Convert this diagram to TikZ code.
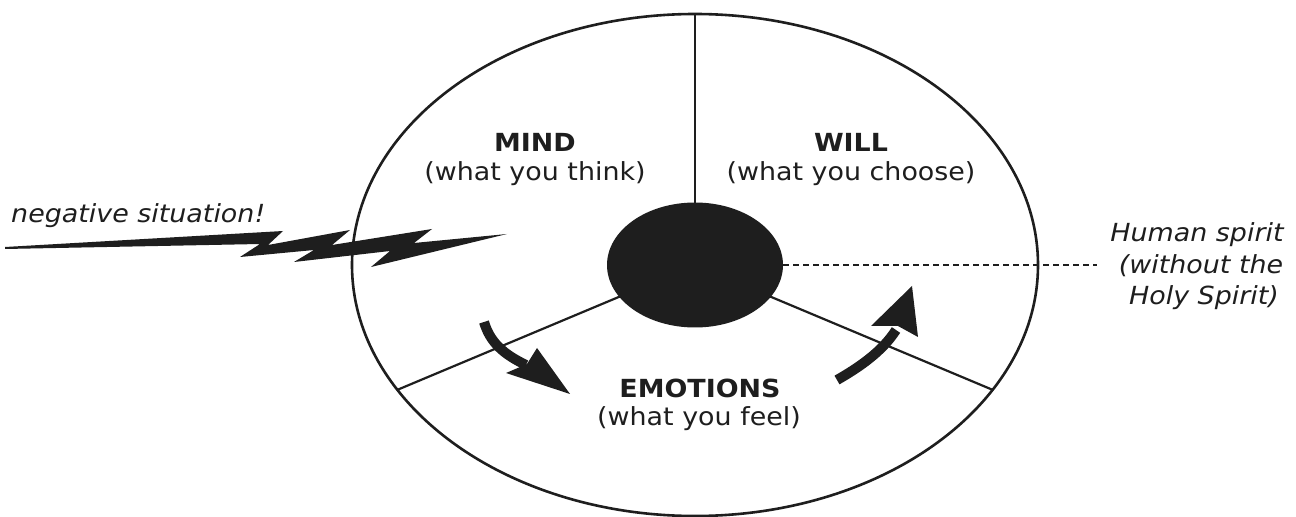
\documentclass[tikz,border=0pt]{standalone}
\usepackage{fontspec}
\setmainfont{DejaVu Sans}[FakeStretch=1.08]
\usetikzlibrary{shapes.geometric}
\definecolor{ink}{HTML}{1E1E1E}
\begin{document}
\begin{tikzpicture}[x=1bp,y=-1bp,
  lbl/.style={anchor=base, inner sep=0pt, font=\fontsize{25}{30}\selectfont, text=ink},
  ttl/.style={lbl, font=\fontsize{25}{30}\selectfont\bfseries},
  note/.style={lbl, font=\fontsize{25}{30}\selectfont\itshape},
  rim/.style={draw=ink, line width=2.6bp},
  divider/.style={draw=ink, line width=2.2bp},
  shaft/.style={draw=ink, line width=10bp},
  headfill/.style={fill=ink}]
\useasboundingbox (0,0) rectangle (1296,517);
\fill[white] (0,0) rectangle (1296,517);

% outer ellipse (human spirit)
\draw[rim] (695,265) ellipse [x radius=343, y radius=251];

% named points
\coordinate (ctr) at (695,265);
\coordinate (top) at (695,14);
\coordinate (lowleft) at (397,390);
\coordinate (lowright) at (993,390);
\coordinate (dashend) at (1097,265);

% dividers
\draw[divider] (top) -- (ctr);
\draw[divider] (ctr) -- (lowleft);
\draw[divider] (ctr) -- (lowright);

% core
\node[ellipse, fill=ink, minimum width=176bp, minimum height=125bp, inner sep=0pt] (core) at (ctr) {};

% dashed pointer
\draw[ink, line width=1.3bp, dash pattern=on 6bp off 4bp] (core.east) -- (dashend);

% labels
\node[ttl] (mind) at (535,152) {MIND};
\node[lbl] (mindsub) at (535,181) {(what you think)};
\node[ttl] (will) at (851,152) {WILL};
\node[lbl] (willsub) at (851,181) {(what you choose)};
\node[ttl] (emo) at (700,397) {EMOTIONS};
\node[lbl] (emosub) at (699,425) {(what you feel)};

\node[note, anchor=base west] (neg) at (11,223) {negative situation!};
\node[note] (hs1) at (1197,242) {Human spirit};
\node[note] (hs2) at (1201,274) {(without the};
\node[note] (hs3) at (1204,305) {Holy Spirit)};

% lightning bolt
\fill[ink] (5,247) -- (283,231) -- (268,245) -- (350,230) -- (332,245) -- (432,229)
  -- (414,243) -- (507,234) -- (371,267) -- (390,251) -- (294,262) -- (314,250)
  -- (240,257) -- (260,244) -- (5,249) -- cycle;

% curved arrows
\draw[shaft] (484,322) .. controls (490,342) and (503,354) .. (526,365);
\fill[headfill] (570,394) -- (506,373) -- (527,364) -- (537,348) -- cycle;

\draw[shaft] (837,380) .. controls (858,368) and (882,352) .. (896,330);
\fill[headfill] (912,286) -- (918,337) -- (898,326) -- (871,326) -- cycle;
\end{tikzpicture}
\end{document}
